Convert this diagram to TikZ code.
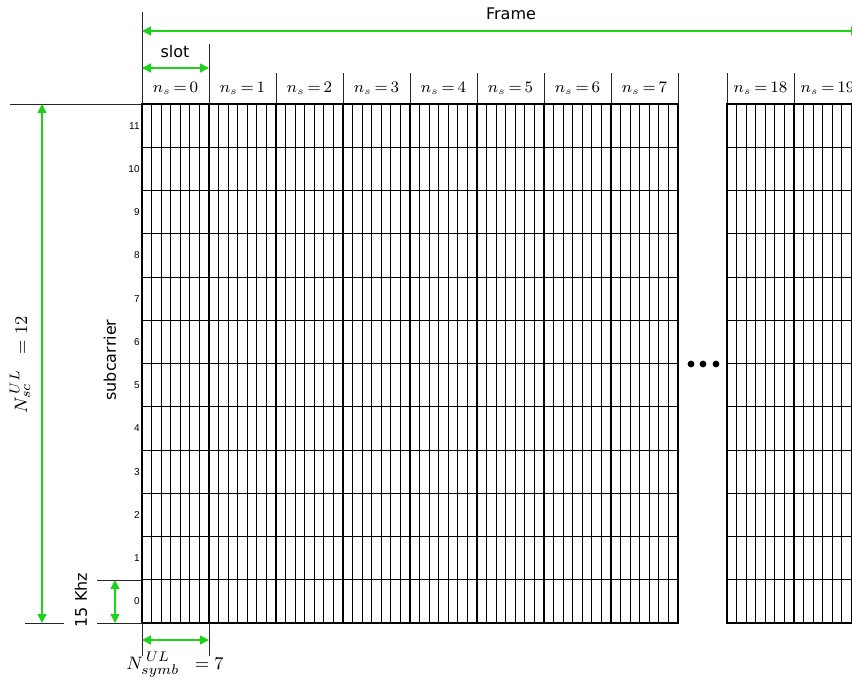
\documentclass[tikz,border=0pt]{standalone}
\usepackage{fontspec}
\setsansfont{DejaVu Sans}
\newfontfamily\numfont{Liberation Sans}
\usetikzlibrary{arrows.meta}
\definecolor{dimgreen}{HTML}{1DD11D}

\begin{document}
\begin{tikzpicture}[x=0.5pt,y=-0.5pt,
  dim/.style={dimgreen,line width=0.7pt,{Triangle[length=4.5pt,width=4.5pt]}-{Triangle[length=4.5pt,width=4.5pt]}},
  ext/.style={black!85,line width=0.5pt},
  slotline/.style={line width=1.1pt},
  symline/.style={line width=0.45pt},
  rowline/.style={line width=0.5pt},
  lbl/.style={font=\sffamily\fontsize{8}{9}\selectfont},
  nslbl/.style={font=\fontsize{7.6}{8}\selectfont},
  dimlbl/.style={font=\fontsize{9.5}{10}\selectfont},
  rowlbl/.style={font=\numfont\fontsize{5}{6}\selectfont,inner sep=0pt}]
  \clip (0,0) rectangle (852,681);
  \fill[white] (0,0) rectangle (852,681);
  % symbol columns and slot headers
  \foreach \sx/\n in {142/0,209/1,276/2,343/3,410/4,477/5,544/6,611/7,727/18,794/19}{
    \foreach \k in {1,...,6}
      \draw[symline] ({\sx+\k*67/7},104) -- ({\sx+\k*67/7},623);
    \draw[ext] (\sx,73) -- (\sx,104);
    \node[nslbl] (ns\n) at (\sx+33.5,88) {$n_s\,{=}\,\n$};
  }
  \draw[ext] (678,73) -- (678,104);
  % subcarrier rows
  \foreach \r in {1,...,11}{
    \draw[rowline] (142,{104+\r*43.25}) -- (678,{104+\r*43.25});
    \draw[rowline] (727,{104+\r*43.25}) -- (861,{104+\r*43.25});
  }
  \foreach \r in {0,...,11}
    \node[rowlbl,anchor=east] (row\r) at (140,{623-(\r+0.5)*43.25}) {\r};
  % slot borders
  \foreach \sx in {209,276,...,611,794}
    \draw[slotline] (\sx,104) -- (\sx,623);
  \draw[slotline] (142,104) rectangle (678,623);
  \draw[slotline] (727,104) rectangle (861,623);
  \foreach \dx in {691,703,716}
    \fill (\dx,364) circle[radius=1.7pt];
  % frame and slot
  \draw[ext] (142,12) -- (142,104);
  \draw[ext] (209,44) -- (209,104);
  \coordinate (frameL) at (142,31);
  \coordinate (frameR) at (860,31);
  \draw[dim] (frameL) -- (frameR);
  \node[lbl] (frame) at (511,14) {Frame};
  \coordinate (slotL) at (142,68);
  \coordinate (slotR) at (209,68);
  \draw[dim] (slotL) -- (slotR);
  \node[lbl] (slot) at (175,52) {slot};
  % subcarrier spacing
  \draw[ext] (10,104) -- (142,104);
  \draw[ext] (25,623) -- (64,623);
  \draw[ext] (97,623) -- (142,623);
  \draw[ext] (97,580) -- (142,580);
  \coordinate (scT) at (42,104);
  \coordinate (scB) at (42,623);
  \draw[dim] (scT) -- (scB);
  \node[dimlbl,rotate=90] (nsc) at (20,365) {$N^{\,UL}_{sc}\;\;=12$};
  \node[lbl,rotate=90] (subc) at (110,360) {subcarrier};
  \coordinate (khzT) at (115,580);
  \coordinate (khzB) at (115,623);
  \draw[dim] (khzT) -- (khzB);
  \node[lbl,rotate=90] (khz) at (81,600) {15 Khz};
  % symbols per slot
  \draw[ext] (142,623) -- (142,656);
  \draw[ext] (209,623) -- (209,656);
  \coordinate (symL) at (142,640);
  \coordinate (symR) at (209,640);
  \draw[dim] (symL) -- (symR);
  \node[dimlbl] (nsymb) at (175,665) {$N^{\,UL}_{symb}\;\;=7$};
\end{tikzpicture}
\end{document}
